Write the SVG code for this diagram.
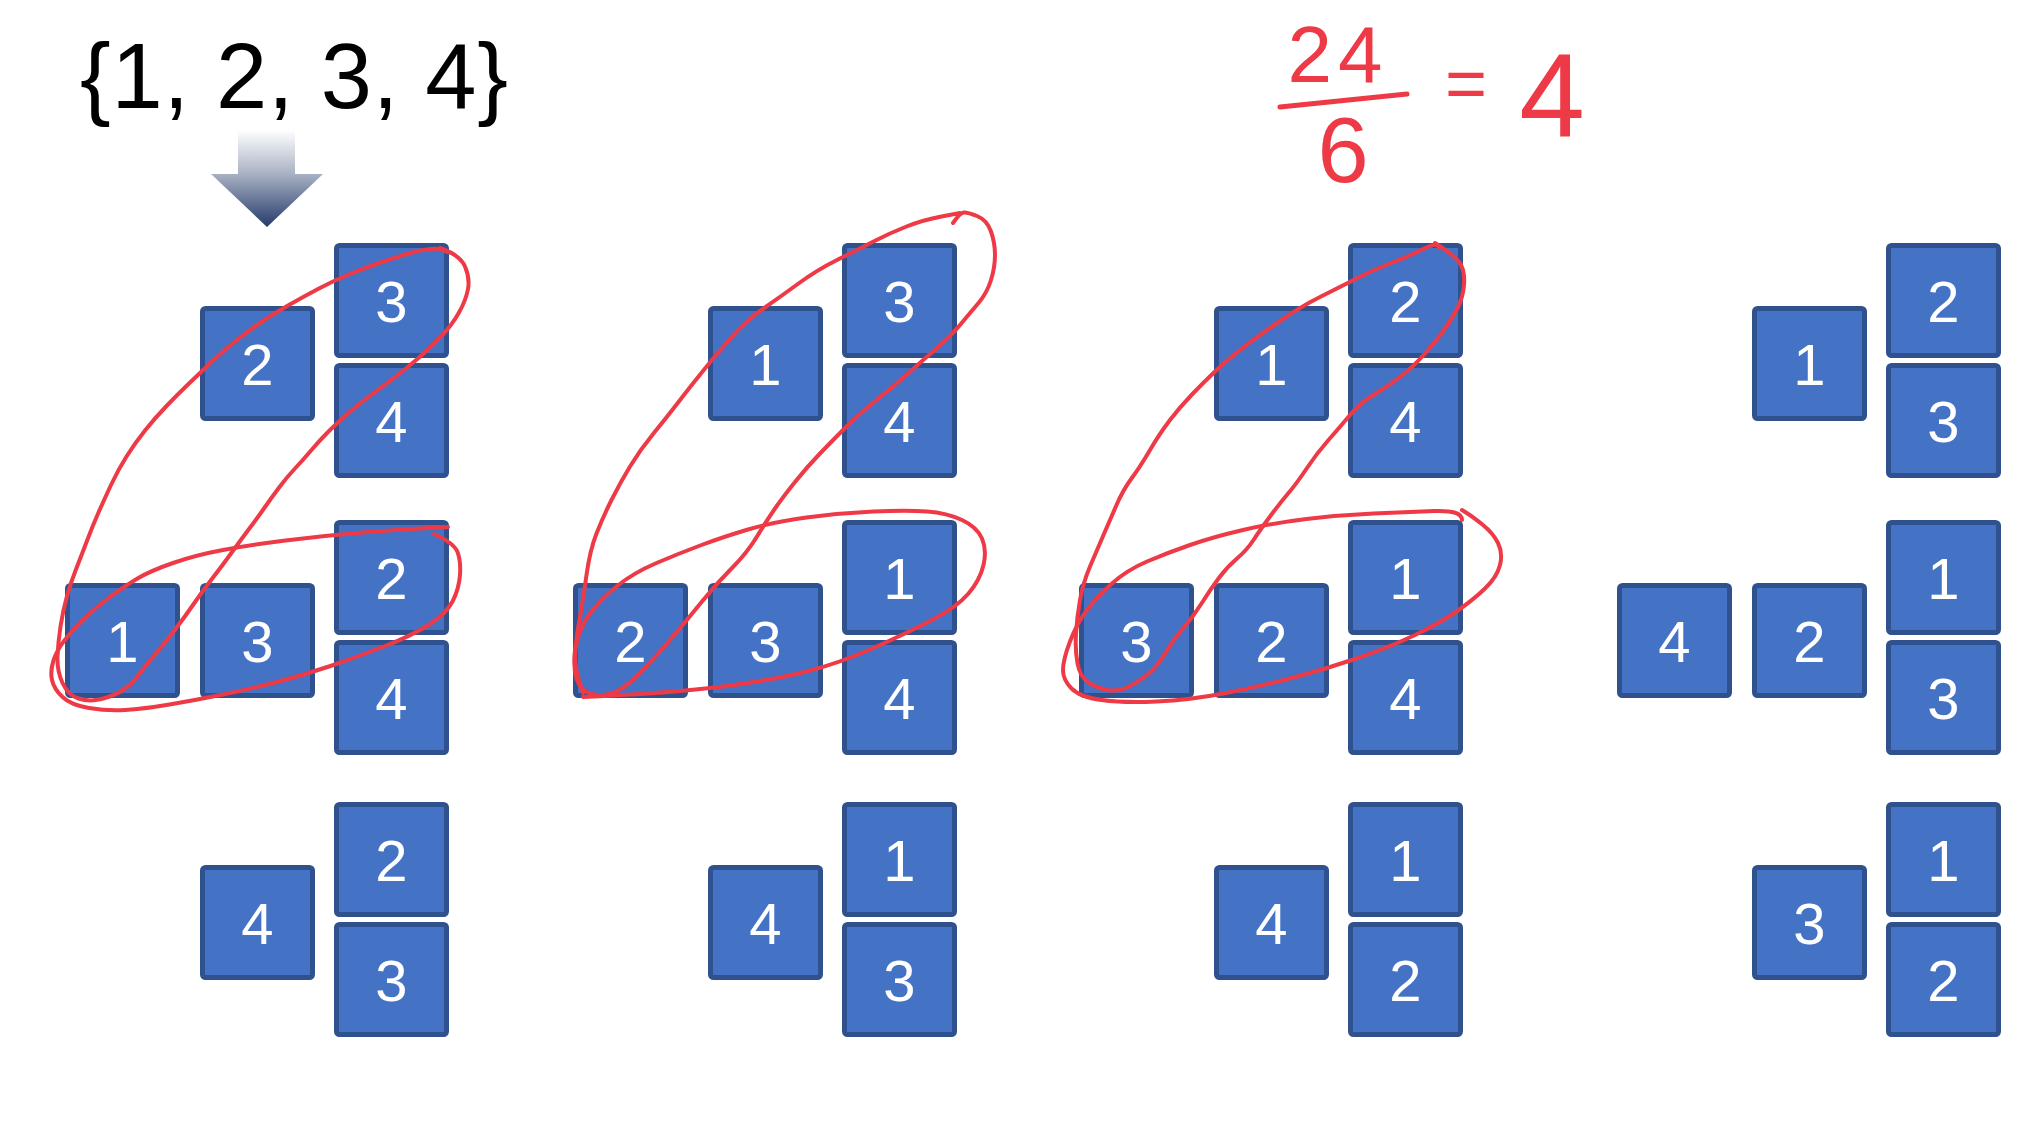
<svg xmlns="http://www.w3.org/2000/svg" width="2028" height="1126" viewBox="0 0 2028 1126">
<defs>
<linearGradient id="arrowGrad" x1="0" y1="130" x2="0" y2="227" gradientUnits="userSpaceOnUse">
<stop offset="0" stop-color="#ffffff"/>
<stop offset="0.45" stop-color="#a9b2c4"/>
<stop offset="1" stop-color="#263b6b"/>
</linearGradient>
</defs>
<style>
.box rect{fill:#4472C4;stroke:#2F528F;stroke-width:5}
.box text{fill:#ffffff;font-family:"Liberation Sans",Arial,sans-serif;font-size:58px;text-anchor:middle}
.loop{fill:none;stroke:#ee3a46;stroke-width:4;stroke-linejoin:round;stroke-linecap:round}
.hand{fill:#ee3a46;font-family:"Liberation Sans",Arial,sans-serif;text-anchor:middle}
</style>
<rect width="2028" height="1126" fill="#ffffff"/>
<text id="set" x="80" y="108" font-family="Liberation Sans, Arial, sans-serif" font-size="92" fill="#000000" textLength="428" lengthAdjust="spacing">{1, 2, 3, 4}</text>
<g id="connectors">
<path id="arrow" d="M238,130 L295,130 L295,174 L323,174 L267,227 L211,174 L238,174 Z" fill="url(#arrowGrad)"/>
</g>
<!-- column 1 -->
<g id="c1r1L" class="box"><rect x="202.5" y="308.5" width="110" height="110" rx="3"/><text x="257.5" y="384.5">2</text></g>
<g id="c1r1T" class="box"><rect x="336.5" y="245.5" width="110" height="110" rx="3"/><text x="391.5" y="321.5">3</text></g>
<g id="c1r1B" class="box"><rect x="336.5" y="365.5" width="110" height="110" rx="3"/><text x="391.5" y="441.5">4</text></g>
<g id="c1r2F" class="box"><rect x="67.5" y="585.5" width="110" height="110" rx="3"/><text x="122.5" y="661.5">1</text></g>
<g id="c1r2L" class="box"><rect x="202.5" y="585.5" width="110" height="110" rx="3"/><text x="257.5" y="661.5">3</text></g>
<g id="c1r2T" class="box"><rect x="336.5" y="522.5" width="110" height="110" rx="3"/><text x="391.5" y="598.5">2</text></g>
<g id="c1r2B" class="box"><rect x="336.5" y="642.5" width="110" height="110" rx="3"/><text x="391.5" y="718.5">4</text></g>
<g id="c1r3L" class="box"><rect x="202.5" y="867.5" width="110" height="110" rx="3"/><text x="257.5" y="943.5">4</text></g>
<g id="c1r3T" class="box"><rect x="336.5" y="804.5" width="110" height="110" rx="3"/><text x="391.5" y="880.5">2</text></g>
<g id="c1r3B" class="box"><rect x="336.5" y="924.5" width="110" height="110" rx="3"/><text x="391.5" y="1000.5">3</text></g>
<!-- column 2 -->
<g id="c2r1L" class="box"><rect x="710.5" y="308.5" width="110" height="110" rx="3"/><text x="765.5" y="384.5">1</text></g>
<g id="c2r1T" class="box"><rect x="844.5" y="245.5" width="110" height="110" rx="3"/><text x="899.5" y="321.5">3</text></g>
<g id="c2r1B" class="box"><rect x="844.5" y="365.5" width="110" height="110" rx="3"/><text x="899.5" y="441.5">4</text></g>
<g id="c2r2F" class="box"><rect x="575.5" y="585.5" width="110" height="110" rx="3"/><text x="630.5" y="661.5">2</text></g>
<g id="c2r2L" class="box"><rect x="710.5" y="585.5" width="110" height="110" rx="3"/><text x="765.5" y="661.5">3</text></g>
<g id="c2r2T" class="box"><rect x="844.5" y="522.5" width="110" height="110" rx="3"/><text x="899.5" y="598.5">1</text></g>
<g id="c2r2B" class="box"><rect x="844.5" y="642.5" width="110" height="110" rx="3"/><text x="899.5" y="718.5">4</text></g>
<g id="c2r3L" class="box"><rect x="710.5" y="867.5" width="110" height="110" rx="3"/><text x="765.5" y="943.5">4</text></g>
<g id="c2r3T" class="box"><rect x="844.5" y="804.5" width="110" height="110" rx="3"/><text x="899.5" y="880.5">1</text></g>
<g id="c2r3B" class="box"><rect x="844.5" y="924.5" width="110" height="110" rx="3"/><text x="899.5" y="1000.5">3</text></g>
<!-- column 3 -->
<g id="c3r1L" class="box"><rect x="1216.5" y="308.5" width="110" height="110" rx="3"/><text x="1271.5" y="384.5">1</text></g>
<g id="c3r1T" class="box"><rect x="1350.5" y="245.5" width="110" height="110" rx="3"/><text x="1405.5" y="321.5">2</text></g>
<g id="c3r1B" class="box"><rect x="1350.5" y="365.5" width="110" height="110" rx="3"/><text x="1405.5" y="441.5">4</text></g>
<g id="c3r2F" class="box"><rect x="1081.5" y="585.5" width="110" height="110" rx="3"/><text x="1136.5" y="661.5">3</text></g>
<g id="c3r2L" class="box"><rect x="1216.5" y="585.5" width="110" height="110" rx="3"/><text x="1271.5" y="661.5">2</text></g>
<g id="c3r2T" class="box"><rect x="1350.5" y="522.5" width="110" height="110" rx="3"/><text x="1405.5" y="598.5">1</text></g>
<g id="c3r2B" class="box"><rect x="1350.5" y="642.5" width="110" height="110" rx="3"/><text x="1405.5" y="718.5">4</text></g>
<g id="c3r3L" class="box"><rect x="1216.5" y="867.5" width="110" height="110" rx="3"/><text x="1271.5" y="943.5">4</text></g>
<g id="c3r3T" class="box"><rect x="1350.5" y="804.5" width="110" height="110" rx="3"/><text x="1405.5" y="880.5">1</text></g>
<g id="c3r3B" class="box"><rect x="1350.5" y="924.5" width="110" height="110" rx="3"/><text x="1405.5" y="1000.5">2</text></g>
<!-- column 4 -->
<g id="c4r1L" class="box"><rect x="1754.5" y="308.5" width="110" height="110" rx="3"/><text x="1809.5" y="384.5">1</text></g>
<g id="c4r1T" class="box"><rect x="1888.5" y="245.5" width="110" height="110" rx="3"/><text x="1943.5" y="321.5">2</text></g>
<g id="c4r1B" class="box"><rect x="1888.5" y="365.5" width="110" height="110" rx="3"/><text x="1943.5" y="441.5">3</text></g>
<g id="c4r2F" class="box"><rect x="1619.5" y="585.5" width="110" height="110" rx="3"/><text x="1674.5" y="661.5">4</text></g>
<g id="c4r2L" class="box"><rect x="1754.5" y="585.5" width="110" height="110" rx="3"/><text x="1809.5" y="661.5">2</text></g>
<g id="c4r2T" class="box"><rect x="1888.5" y="522.5" width="110" height="110" rx="3"/><text x="1943.5" y="598.5">1</text></g>
<g id="c4r2B" class="box"><rect x="1888.5" y="642.5" width="110" height="110" rx="3"/><text x="1943.5" y="718.5">3</text></g>
<g id="c4r3L" class="box"><rect x="1754.5" y="867.5" width="110" height="110" rx="3"/><text x="1809.5" y="943.5">3</text></g>
<g id="c4r3T" class="box"><rect x="1888.5" y="804.5" width="110" height="110" rx="3"/><text x="1943.5" y="880.5">1</text></g>
<g id="c4r3B" class="box"><rect x="1888.5" y="924.5" width="110" height="110" rx="3"/><text x="1943.5" y="1000.5">2</text></g>
<!-- red hand-drawn loops -->
<g id="loops">
<path class="loop" d="M440,248 Q460,255 465,266.5 Q470,278 468,289 Q466,300 459,312.5 Q452,325 441,336.5 Q430,348 418.5,358 Q407,368 394.5,377.5 Q382,387 371,395 Q360,403 349,412.5 Q338,422 329,431 Q320,440 311.5,450 Q303,460 295,468.5 Q287,477 279.5,487 Q272,497 265,507 Q258,517 249,529 Q240,541 231,553.5 Q222,566 213,577.5 Q204,589 194,603.5 Q184,618 174,631 Q164,644 155,654.5 Q146,665 139,674.5 Q132,684 123,690 Q114,696 101.5,699 Q89,702 78.5,698.5 Q68,695 62.5,683 Q57,671 57.5,657 Q58,643 60.5,626.5 Q63,610 67,596 Q71,582 76.5,568 Q82,554 87.5,539.5 Q93,525 98.5,512.5 Q104,500 111,485 Q118,470 126.5,456.5 Q135,443 145,430.5 Q155,418 166.5,406 Q178,394 189,383.5 Q200,373 211.5,362 Q223,351 235,341.5 Q247,332 260,323 Q273,314 288,305.5 Q303,297 318,289 Q333,281 350,274 Q367,267 382,262 Q397,257 408.5,253.5 Q420,250 430,249 Q440,248 443.5,250 L447,252"/>
<path class="loop" d="M434,534 Q454,543 457.5,552 Q461,561 460,575 Q459,589 452.5,601.5 Q446,614 428.5,625 Q411,636 384,646.5 Q357,657 330.5,666 Q304,675 277,682 Q250,689 223,694.5 Q196,700 169.5,704.5 Q143,709 125,710 Q107,711 89,708 Q71,705 62.5,697 Q54,689 52,680 Q50,671 53.5,660.5 Q57,650 64,641 Q71,632 83.5,619.5 Q96,607 110.5,596.5 Q125,586 137.5,578.5 Q150,571 173,563 Q196,555 223,550 Q250,545 285.5,540.5 Q321,536 357,533 Q393,530 420.5,528.5 L448,527"/>
<path class="loop" d="M953,223 Q960,213 963.5,212.5 Q967,212 977,216 Q987,220 991,231.5 Q995,243 995,255 Q995,267 991,280 Q987,293 978.5,303 Q970,313 960,325 Q950,337 936.5,348.5 Q923,360 908,373.5 Q893,387 876.5,400 Q860,413 846.5,426.5 Q833,440 820,453.5 Q807,467 795,482 Q783,497 775,508.5 Q767,520 757,536.5 Q747,553 732,568 Q717,583 702,601.5 Q687,620 670,640 Q653,660 638,675 Q623,690 611.5,693.5 Q600,697 590,693.5 Q580,690 576.5,678.5 Q573,667 575,650 Q577,633 580,616.5 Q583,600 586.5,575 Q590,550 596.5,533.5 Q603,517 611.5,500 Q620,483 630,466.5 Q640,450 653.5,433.5 Q667,417 678.5,402 Q690,387 705,368.5 Q720,350 733.5,335 Q747,320 763.5,308.5 Q780,297 798.5,283.5 Q817,270 837,260 Q857,250 873.5,241.5 Q890,233 906.5,226.5 Q923,220 941.5,216.5 L960,213"/>
<path class="loop" d="M583,697 Q673,693 723,686.5 Q773,680 806.5,671.5 Q840,663 873.5,648 Q907,633 932,620 Q957,607 968.5,593.5 Q980,580 983.5,565 Q987,550 982,538.5 Q977,527 962,520 Q947,513 927,511.5 Q907,510 873.5,511.5 Q840,513 806.5,517.5 Q773,522 748,529.5 Q723,537 701.5,545 Q680,553 656.5,563 Q633,573 616.5,586.5 Q600,600 590,613.5 Q580,627 576.5,643.5 Q573,660 578,676.5 L583,693"/>
<path class="loop" d="M1435,243 Q1457,257 1461,265 Q1465,273 1464,285 Q1463,297 1458,307 Q1453,317 1445,328.5 Q1437,340 1425,353.5 Q1413,367 1400,377 Q1387,387 1373.5,395 Q1360,403 1350,415 Q1340,427 1328.5,440 Q1317,453 1307,468 Q1297,483 1288.5,493 Q1280,503 1270,516.5 Q1260,530 1253.5,540 Q1247,550 1237,558.5 Q1227,567 1218.5,578.5 Q1210,590 1201.5,603.5 Q1193,617 1183,628.5 Q1173,640 1165,653.5 Q1157,667 1147,675 Q1137,683 1127,687.5 Q1117,692 1107,690 Q1097,688 1088.5,682.5 Q1080,677 1077.5,663.5 Q1075,650 1076,633.5 Q1077,617 1080,600 Q1083,583 1090,566.5 Q1097,550 1103.5,535 Q1110,520 1116.5,505 Q1123,490 1131.5,478.5 Q1140,467 1150,450 Q1160,433 1170,420 Q1180,407 1191.5,395 Q1203,383 1215,371.5 Q1227,360 1242,348.5 Q1257,337 1278.5,322 Q1300,307 1320,297 Q1340,287 1356.5,278.5 Q1373,270 1390,263.5 Q1407,257 1421,250 Q1435,243 1437.5,245.5 L1440,248"/>
<path class="loop" d="M1462,520 Q1462,510 1434.5,511 Q1407,512 1373.5,513.5 Q1340,515 1306.5,519 Q1273,523 1243,530 Q1213,537 1190,545 Q1167,553 1147,561.5 Q1127,570 1112,583.5 Q1097,597 1087,610 Q1077,623 1070,641.5 Q1063,660 1063,670 Q1063,680 1071.5,688.5 Q1080,697 1101.5,700 Q1123,703 1156.5,701.5 Q1190,700 1223.5,693.5 Q1257,687 1290,678.5 Q1323,670 1356.5,658.5 Q1390,647 1415,635 Q1440,623 1456.5,611.5 Q1473,600 1485,588.5 Q1497,577 1500,565 Q1503,553 1498,543 Q1493,533 1483,525 Q1473,517 1467.5,513.5 L1462,510"/>
</g>
<!-- handwritten formula -->
<g id="formula">
<text class="hand" x="1338" y="82" font-size="80" letter-spacing="6">24</text>
<line x1="1280" y1="107" x2="1407" y2="94" stroke="#ee3a46" stroke-width="5" stroke-linecap="round"/>
<text class="hand" x="1343" y="182" font-size="92">6</text>
<text class="hand" x="1466" y="108" font-size="72">=</text>
<text class="hand" x="1552" y="137" font-size="118">4</text>
</g>
</svg>
